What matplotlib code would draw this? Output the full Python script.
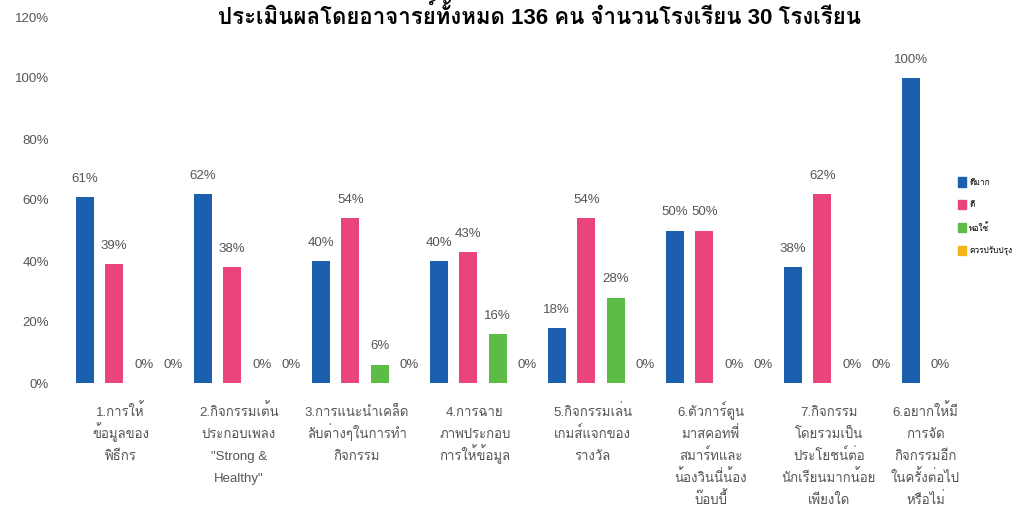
import numpy as np
import matplotlib
matplotlib.use("Agg")
import matplotlib.pyplot as plt
from matplotlib import font_manager
from matplotlib.ft2font import FT2Font
from matplotlib.patches import Patch

categories = [
    "1.การให้\nข้อมูลของ\nพิธีกร",
    "2.กิจกรรมเต้น\nประกอบเพลง\n\"Strong &\nHealthy\"",
    "3.การแนะนำเคล็ด\nลับต่างๆในการทำ\nกิจกรรม",
    "4.การฉาย\nภาพประกอบ\nการให้ข้อมูล",
    "5.กิจกรรมเล่น\nเกมส์แจกของ\nรางวัล",
    "6.ตัวการ์ตูน\nมาสคอทพี่\nสมาร์ทและ\nน้องวินนี่น้อง\nบ๊อบบี้",
    "7.กิจกรรม\nโดยรวมเป็น\nประโยชน์ต่อ\nนักเรียนมากน้อย\nเพียงใด",
    "6.อยากให้มี\nการจัด\nกิจกรรมอีก\nในครั้งต่อไป\nหรือไม่",
]
series_names = ["ดีมาก", "ดี", "พอใช้", "ควรปรับปรุง"]
very_good = [61, 62, 40, 40, 18, 50, 38, 100]
good = [39, 38, 54, 43, 54, 50, 62, 0]
fair = [0, 0, 6, 16, 28, 0, 0, np.nan]
improve = [0, 0, 0, 0, 0, 0, 0, np.nan]
colors = ["#1b5fae", "#e9457c", "#5cbc46", "#f6b41b"]
title = "ประเมินผลโดยอาจารย์ทั้งหมด 136 คน จำนวนโรงเรียน 30 โรงเรียน"


def find_thai_font():
    for f in font_manager.fontManager.ttflist:
        try:
            if 0x0E01 in FT2Font(f.fname).get_charmap():
                return f.name
        except Exception:
            pass
    return None


thai = find_thai_font()
fams = ["Liberation Sans", thai] if thai else ["Liberation Sans", "DejaVu Sans"]
plt.rcParams["font.family"] = fams

fig = plt.figure(figsize=(10.22, 5.09), dpi=100)
ax = fig.add_axes([70 / 1022, 126 / 509, 944 / 1022, 366 / 509])

data = [very_good, good, fair, improve]
x = np.arange(len(categories))
slot = 0.25
for i, (vals, col) in enumerate(zip(data, colors)):
    pos = x + (i - 1.5) * slot
    vals = np.array(vals, dtype=float)
    ax.bar(pos, np.nan_to_num(vals), width=0.15, color=col)
    for p, v in zip(pos, vals):
        if np.isnan(v):
            continue
        ax.text(p, v + 6, f"{int(v)}%", ha="center", va="center",
                fontsize=9.5, color="#555555")

# category label sits under the bars that are actually present
label_pos = []
for k in range(len(categories)):
    present = [i for i, d in enumerate(data) if not np.isnan(d[k])]
    if len(present) < len(data):
        label_pos.append(k + (np.mean(present) - 1.5) * slot)
    else:
        label_pos.append(k - 0.07)

# one text per line, on baselines, so spacing stays even with Thai marks
px = 72 / 100
for lp, lab in zip(label_pos, categories):
    for j, line in enumerate(lab.split("\n")):
        ax.annotate(line, xy=(lp, 0), xytext=(0, -(33 + 22 * j) * px),
                    textcoords="offset points", ha="center", va="baseline",
                    fontsize=9.5, color="#555555", annotation_clip=False)

ax.set_xlim(-0.5, len(categories) - 0.5)
ax.set_ylim(0, 120)
ax.set_yticks(range(0, 121, 20))
ax.set_yticklabels([f"{t}%" for t in range(0, 121, 20)])
ax.tick_params(axis="y", length=0, labelsize=9.5, labelcolor="#555555", pad=15)
ax.set_xticks([])
for s in ax.spines.values():
    s.set_visible(False)

fig.suptitle(title, x=540 / 1022, y=1 - 4 / 509, va="top",
             fontsize=16, fontweight="bold")

handles = [Patch(color=c) for c in colors]
fig.legend(handles, series_names, loc="upper left",
           bbox_to_anchor=(950 / 1022, 1 - 170 / 509), frameon=False,
           fontsize=6, handlelength=1.0, handleheight=1.3,
           labelspacing=1.6, handletextpad=0.4)

fig.savefig("out.png", dpi=100)
